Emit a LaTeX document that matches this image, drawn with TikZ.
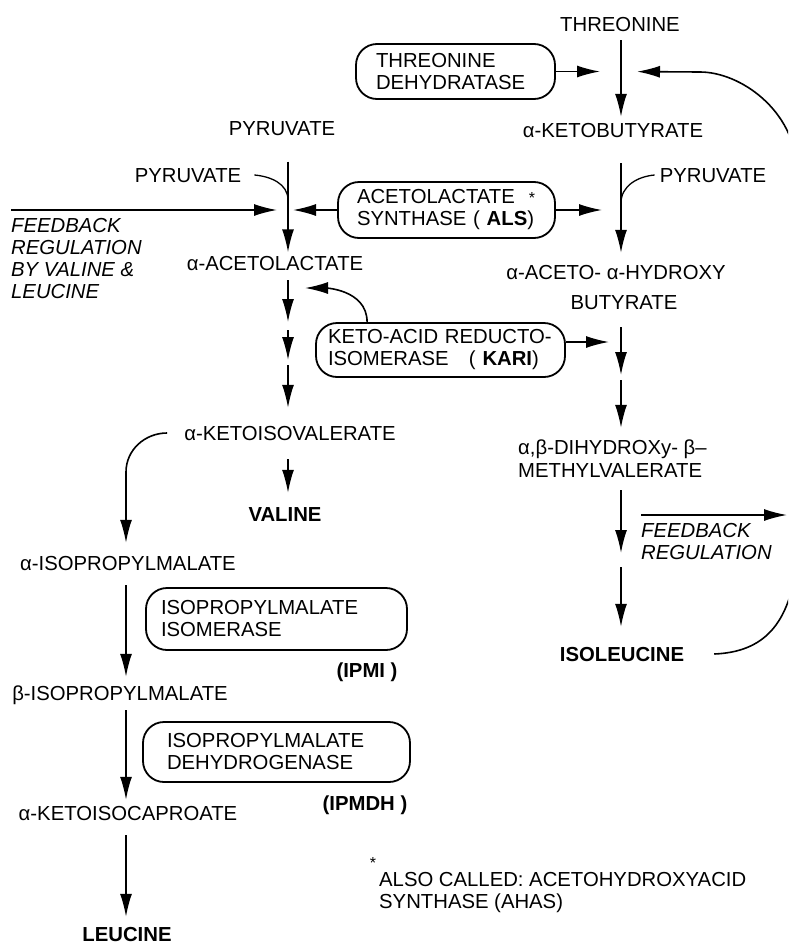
\documentclass[tikz,border=0pt]{standalone}
\usepackage{fontspec}
\setmainfont{Liberation Sans}
\usetikzlibrary{arrows.meta,positioning,calc}

\begin{document}
\begin{tikzpicture}[
  x=1pt,y=-1pt,
  font=\fontsize{20.3}{22}\selectfont,
  cmpd/.style={inner sep=0pt,text height=15pt,text depth=0pt},
  prod/.style={cmpd,font=\fontsize{20.3}{22}\selectfont\bfseries},
  fbtxt/.style={inner sep=0pt,align=left,font=\fontsize{20.3}{22}\selectfont\itshape},
  enz/.style={draw,line width=1.8pt,rounded corners=21pt,align=left,inner ysep=0pt},
  flow/.style={line width=1.6pt,-{Latex[length=23pt,width=12pt]}},
  hook/.style={line width=1.3pt}
]
\useasboundingbox (0,0) rectangle (788,945);
\clip (0,0) rectangle (788,945);

% ---- column guides ----
\coordinate (lc) at (288,0);
\coordinate (rc) at (621,0);
\coordinate (kc) at (126,0);

% ---- compounds ----
\node[cmpd] (thr) at (620,24) {THREONINE};
\node[cmpd] (kbut) at (613,130) {α-KETOBUTYRATE};
\node[cmpd] (pyr1) at (282,128) {PYRUVATE};
\node[cmpd] (pyr2) at (188,175) {PYRUVATE};
\node[cmpd] (pyr3) at (713,175) {PYRUVATE};
\node[cmpd] (alac) at (275,263) {α-ACETOLACTATE};
\node[cmpd] (aahb1) at (616,272) {α-ACETO- α-HYDROXY};
\node[cmpd] (aahb2) at (624,302) {BUTYRATE};
\node[cmpd] (kiv) at (290,433) {α-KETOISOVALERATE};
\node[cmpd,anchor=west] (dhmv1) at (518,447) {α,β-DIHYDROXy- β–};
\node[cmpd,anchor=west] (dhmv2) at (518,470) {METHYLVALERATE};
\node[prod] (val) at (285,514) {VALINE};
\node[prod] (ile) at (622,654) {ISOLEUCINE};
\node[cmpd] (ipm) at (128,563) {α-ISOPROPYLMALATE};
\node[cmpd] (bipm) at (120,693) {β-ISOPROPYLMALATE};
\node[cmpd] (kic) at (128,813) {α-KETOISOCAPROATE};
\node[prod] (leu) at (127,934) {LEUCINE};

% ---- enzymes ----
\node[enz,minimum width=199pt,minimum height=55pt,text width=159pt,inner xsep=20pt]
  (tdh) at (455.5,71.5) {\mbox{THREONINE}\\\mbox{DEHYDRATASE}};
\node[enz,minimum width=217pt,minimum height=56pt,text width=179pt,inner xsep=19pt]
  (als) at (446.5,210) {\mbox{ACETOLACTATE\hspace{14pt}{\fontsize{16}{16}\selectfont *}}\\
  \mbox{SYNTHASE ( \textbf{ALS})}};
\node[enz,minimum width=249pt,minimum height=54pt,text width=225pt,inner xsep=12pt]
  (kari) at (440.5,350) {\mbox{KETO-ACID REDUCTO-}\\\mbox{ISOMERASE \ \ ( \textbf{KARI})}};
\node[enz,minimum width=261pt,minimum height=62pt,text width=231pt,inner xsep=15pt]
  (ipmi) at (276.5,619) {\mbox{ISOPROPYLMALATE}\\\mbox{ISOMERASE}};
\node[enz,minimum width=267pt,minimum height=60pt,text width=219pt,inner xsep=24pt]
  (ipmdh) at (276.5,752) {\mbox{ISOPROPYLMALATE}\\\mbox{DEHYDROGENASE}};
\node[prod] (ipmitag) at (367,670) {(IPMI )};
\node[prod] (ipmdhtag) at (365,803) {(IPMDH )};

% ---- notes ----
\node[fbtxt,anchor=north west] (fb) at (11,218) {FEEDBACK\\REGULATION\\BY VALINE \&\\LEUCINE};
\node[fbtxt,anchor=north west] (fb2) at (641,523) {FEEDBACK\\REGULATION};
\node[inner sep=0pt,anchor=north west,align=left] (note) at (379,872.5)
  {ALSO CALLED: ACETOHYDROXYACID\\SYNTHASE (AHAS)};
\node[inner sep=0pt,font=\fontsize{16}{16}\selectfont] (star) at (373,863) {*};

% ---- valine / leucine trunk ----
\draw[flow,shorten <=26pt,shorten >=3pt] (pyr1.south -| lc) -- (alac.north -| lc);
\coordinate (pyrjoin) at (288,200);
\draw[hook] ([xshift=13pt]pyr2.east) to[out=-5,in=90] (pyrjoin);
\draw[flow,shorten >=11pt] ($(fb.north west)+(0,-8)$) -- (als.west -| lc);
\draw[flow,shorten >=5pt] (als.west) -- (als.west -| lc);
\coordinate (lm1) at (288,326);
\coordinate (lm2) at (288,362);
\draw[flow,shorten <=9.5pt,shorten >=4pt] (alac.south -| lc) -- (lm1);
\draw[flow,shorten <=4pt,shorten >=2pt] (lm1) -- (lm2);
\draw[flow,shorten <=3pt,shorten >=17.5pt] (lm2) -- (kiv.north -| lc);
\coordinate (karijoin) at (288,288);
\draw[flow,shorten >=17pt] ([xshift=52pt]kari.north west) to[out=90,in=0] (karijoin);
\draw[flow,shorten <=18.5pt,shorten >=13.5pt] (kiv.south -| lc) -- (val.north -| lc);
\coordinate (kivbend) at (126,472);
\draw[flow,shorten >=12.5pt] ([xshift=-17pt]kiv.west) to[out=180,in=90] (kivbend) -- (ipm.north -| kc);
\draw[flow,shorten <=14.5pt,shorten >=8.5pt] (ipm.south -| kc) -- (bipm.north -| kc);
\draw[flow,shorten <=9.5pt,shorten >=5.5pt] (bipm.south -| kc) -- (kic.north -| kc);
\draw[flow,shorten <=14.5pt,shorten >=9.5pt] (kic.south -| kc) -- (leu.north -| kc);

% ---- isoleucine trunk ----
\draw[flow,shorten <=8.5pt,shorten >=5.5pt] (thr.south -| rc) -- (kbut.north -| rc);
\draw[flow,shorten >=21pt] (tdh.east) -- (tdh.east -| rc);
\draw[flow,shorten <=25.5pt,shorten >=11.5pt] (kbut.south -| rc) -- (aahb1.north -| rc);
\coordinate (pyrjoin2) at (621,203);
\draw[hook] ([xshift=-5pt]pyr3.west) to[out=185,in=90] (pyrjoin2);
\draw[flow,shorten >=19pt] (als.east) -- (als.east -| rc);
\coordinate (rmid1) at (621,377);
\draw[flow,shorten <=17.5pt,shorten >=2pt] (aahb2.south -| rc) -- (rmid1);
\draw[flow,shorten <=3pt,shorten >=11.5pt] (rmid1) -- (dhmv1.north -| rc);
\draw[flow,shorten >=12pt] ($(kari.east)+(0,-8)$) -- ($(kari.east -| rc)+(0,-8)$);
\coordinate (rmid2) at (621,560);
\draw[flow,shorten <=12.5pt,shorten >=7pt] (dhmv2.south -| rc) -- (rmid2);
\draw[flow,shorten <=7pt,shorten >=19.5pt] (rmid2) -- (ile.north -| rc);

% ---- feedback loop back to the dehydratase ----
\coordinate (retlow) at (797,560);
\coordinate (rethigh) at (797,170);
\coordinate (retturn) at (700,72);
\draw[flow,shorten >=16pt] ([xshift=30pt]ile.east) .. controls +(49,-2) and +(-7,65) .. (retlow)
  -- (rethigh) .. controls +(-2,-60) and +(40,0) .. (retturn) -- (tdh.east -| rc);
\draw[flow,shorten >=10pt] ($(fb2.north west)+(0,-8)$) -- ($(fb2.north west -| retlow)+(0,-8)$);

\end{tikzpicture}
\end{document}
